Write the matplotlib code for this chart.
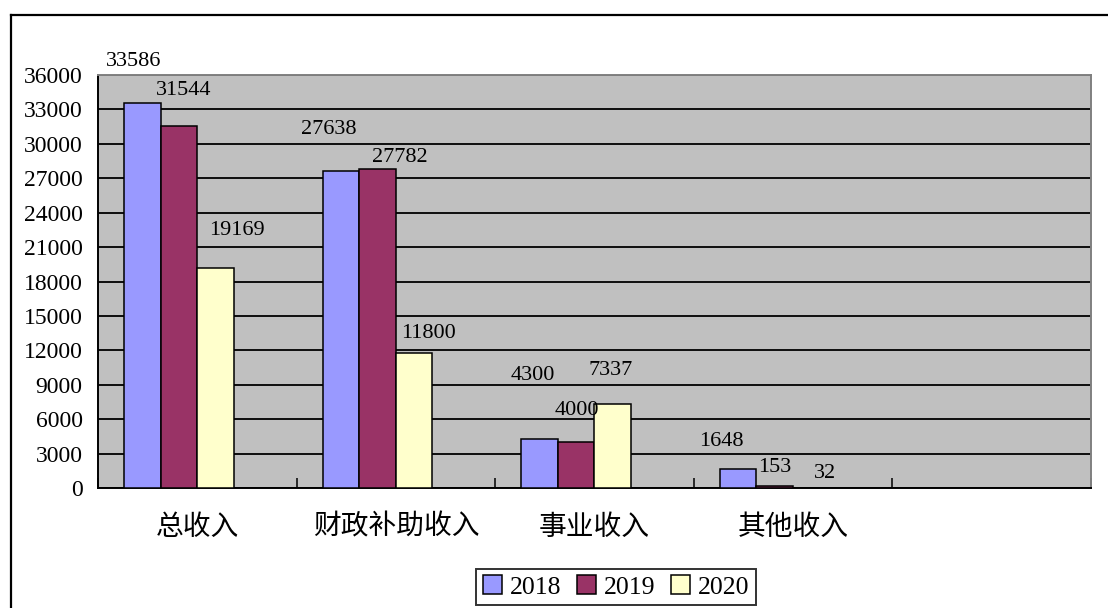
import matplotlib
matplotlib.use("Agg")
import matplotlib.pyplot as plt
from matplotlib.lines import Line2D
import numpy as np

# data
categories = ["总收入", "财政补助收入", "事业收入", "其他收入", ""]
years = ["2018", "2019", "2020"]
values_2018 = [33586, 27638, 4300, 1648]
values_2019 = [31544, 27782, 4000, 153]
values_2020 = [19169, 11800, 7337, 32]
series = [values_2018, values_2019, values_2020]
colors = ["#9999FF", "#993366", "#FFFFCC"]

# hand placed label offsets (pixels from top centre of each bar), like the original
label_offsets = [
    [(-9, 41), (-12, 41), (-7, 63), (-17, 28)],
    [(5, 36), (22, 12), (1, 32), (0, 19)],
    [(22, 38), (15, 19), (-2, 33), (14, 14)],
]

num_font = "Liberation Serif"
cjk_font = ["Noto Sans CJK SC", "DejaVu Sans"]

fig = plt.figure(figsize=(11.08, 6.08), dpi=100)
ax = fig.add_axes([98 / 1108, 1 - 488 / 608, (1091 - 98) / 1108, (488 - 75) / 608])
ax.set_facecolor("#C0C0C0")

# outer frame (only top and left visible in the crop)
fig.add_artist(Line2D([11 / 1108, 1.0], [1 - 15 / 608, 1 - 15 / 608], color="black", lw=1.6,
                      transform=fig.transFigure))
fig.add_artist(Line2D([11 / 1108, 11 / 1108], [0.0, 1 - 15 / 608], color="black", lw=1.6,
                      transform=fig.transFigure))

# 4 slots per group (the 4th series is empty in the original sheet)
bar_w = 0.184
gap = 0.131
x = np.arange(len(categories) - 1)
for i, vals in enumerate(series):
    pos = x - 0.5 + gap + bar_w * (i + 0.5)
    ax.bar(pos, vals, width=bar_w, color=colors[i], edgecolor="black", linewidth=1.1,
           label=years[i], zorder=3)
    for j, v in enumerate(vals):
        dx, dy = label_offsets[i][j]
        ax.annotate(str(v), (pos[j], v), xytext=(dx, dy), textcoords="offset pixels",
                    ha="center", va="center", fontsize=16, family=num_font, zorder=4)

ax.set_xlim(-0.5, len(categories) - 0.5)
ax.set_ylim(0, 36000)
ax.set_yticks(np.arange(0, 36001, 3000))
ax.tick_params(axis="y", length=0, pad=11, labelsize=17)
for lab in ax.get_yticklabels():
    lab.set_family(num_font)

ax.set_xticks(np.arange(len(categories) + 1) - 0.5)
ax.set_xticklabels([])
ax.tick_params(axis="x", which="major", direction="in", length=7, width=1.1, color="black")
ax.set_xticks(np.arange(len(categories)), minor=True)
ax.set_xticklabels(categories, minor=True, fontsize=20, family=cjk_font)
ax.tick_params(axis="x", which="minor", length=0, pad=17)

ax.set_axisbelow(True)
ax.yaxis.grid(True, color="black", linewidth=1.3)

for s in ["left", "bottom"]:
    ax.spines[s].set_color("black")
    ax.spines[s].set_linewidth(1.4)
for s in ["top", "right"]:
    ax.spines[s].set_color("#808080")
    ax.spines[s].set_linewidth(1.4)

leg = fig.legend(loc="center", bbox_to_anchor=(616 / 1108, 1 - 587 / 608), ncol=3,
                 prop={"family": num_font, "size": 18.5}, frameon=True, fancybox=False,
                 edgecolor="black", handlelength=0.75, handleheight=0.75, handletextpad=0.3,
                 columnspacing=0.6, borderpad=0.25, borderaxespad=0)
leg.get_frame().set_linewidth(1.4)

plt.savefig("out.png", dpi=100)
plt.close()
